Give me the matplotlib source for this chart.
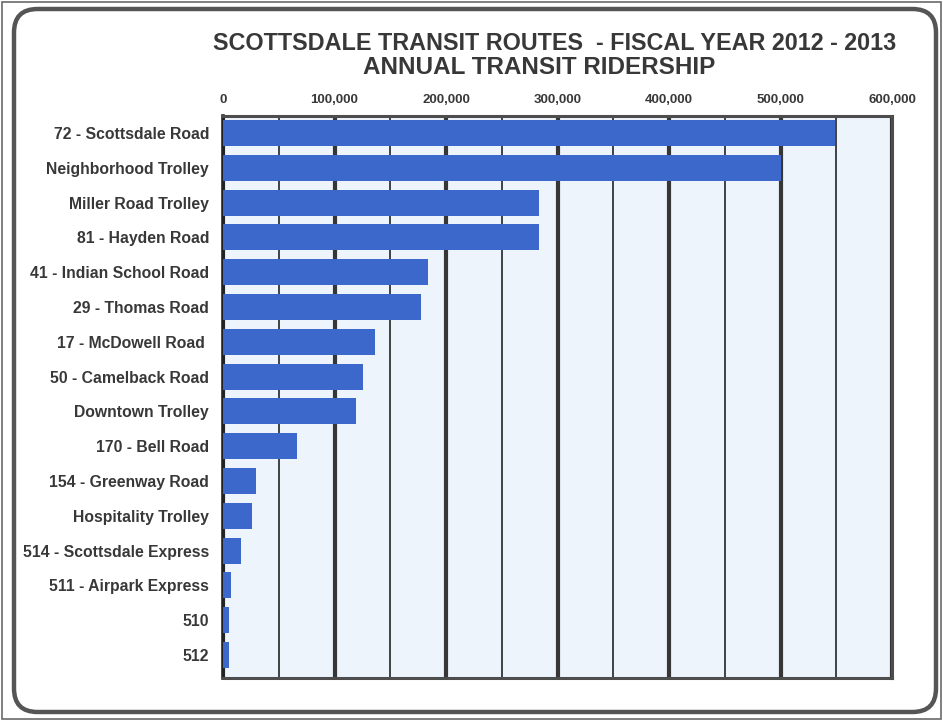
import matplotlib
matplotlib.use("Agg")
import matplotlib.pyplot as plt
from matplotlib.patches import FancyBboxPatch, Rectangle
from matplotlib.ticker import FuncFormatter, MultipleLocator

# Annual ridership by route, FY 2012-2013
routes = [
    "72 - Scottsdale Road",
    "Neighborhood Trolley",
    "Miller Road Trolley",
    "81 - Hayden Road",
    "41 - Indian School Road",
    "29 - Thomas Road",
    "17 - McDowell Road ",
    "50 - Camelback Road",
    "Downtown Trolley",
    "170 - Bell Road",
    "154 - Greenway Road",
    "Hospitality Trolley",
    "514 - Scottsdale Express",
    "511 - Airpark Express",
    "510",
    "512",
]
riders = [549000, 500000, 283000, 283000, 184000, 178000, 136000, 126000,
          119000, 66000, 30000, 26000, 16000, 7000, 5500, 5500]

x_ticks = [0, 100000, 200000, 300000, 400000, 500000, 600000]

title_line1 = "SCOTTSDALE TRANSIT ROUTES  - FISCAL YEAR 2012 - 2013"
title_line2 = "ANNUAL TRANSIT RIDERSHIP"

W, H = 943, 721
fig = plt.figure(figsize=(W / 100, H / 100), dpi=100)
fig.patch.set_facecolor("white")

FONT = "Liberation Sans"
TEXT = "#383838"

# page borders
fig.patches.append(Rectangle((2 / W, 2 / H), (W - 4) / W, (H - 4) / H,
                             transform=fig.transFigure, fill=False,
                             edgecolor="#6a6a6a", lw=1.2))
fig.patches.append(FancyBboxPatch((14 / W, 9 / H), (936 - 14) / W, (712 - 9) / H,
                                  boxstyle="round,pad=0,rounding_size=0.025",
                                  transform=fig.transFigure, fill=False,
                                  edgecolor="#555555", lw=3.2,
                                  mutation_aspect=W / H))

ax = fig.add_axes([223 / W, 1 - 678 / H, (892 - 223) / W, (678 - 116) / H])
ax.set_facecolor("#edf4fc")

ypos = list(range(len(routes)))
ax.barh(ypos, riders, height=0.75, color="#3c68cb", zorder=3)

ax.set_xlim(0, 600000)
ax.set_ylim(15.66, -0.49)

ax.xaxis.set_minor_locator(MultipleLocator(50000))
ax.set_xticks(x_ticks)
ax.xaxis.set_major_formatter(FuncFormatter(lambda v, p: f"{int(v):,}"))
ax.xaxis.tick_top()
ax.tick_params(axis="x", which="both", length=0, pad=7)
ax.grid(axis="x", which="major", color="#363636", lw=3.0, zorder=1)
ax.grid(axis="x", which="minor", color="#111111", lw=1.1, zorder=1)

ax.set_yticks(ypos)
ax.set_yticklabels(routes)
ax.tick_params(axis="y", length=0, pad=10)

for lab in ax.get_xticklabels():
    lab.set_fontfamily(FONT)
    lab.set_fontweight("bold")
    lab.set_fontsize(9.5)
    lab.set_color(TEXT)
for lab in ax.get_yticklabels():
    lab.set_fontfamily(FONT)
    lab.set_fontweight("bold")
    lab.set_fontsize(11.3)
    lab.set_color(TEXT)

for side in ["top", "right", "bottom"]:
    ax.spines[side].set_color("#4d4d4d")
    ax.spines[side].set_linewidth(2.2)
ax.spines["left"].set_color("#222222")
ax.spines["left"].set_linewidth(2.6)

fig.text(555 / W, 1 - 43 / H, title_line1, ha="center", va="center",
         fontsize=16.8, fontweight="bold", family=FONT, color=TEXT)
fig.text(539 / W, 1 - 67 / H, title_line2, ha="center", va="center",
         fontsize=17.5, fontweight="bold", family=FONT, color=TEXT)

fig.savefig("out.png", dpi=100)
